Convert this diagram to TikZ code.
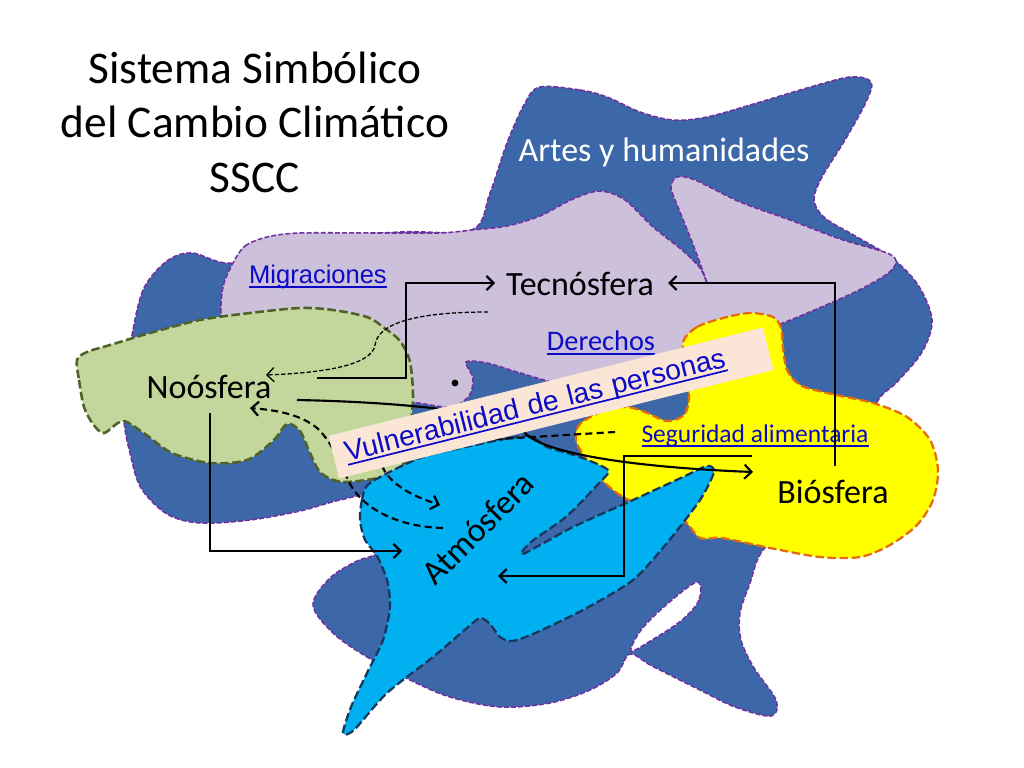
\documentclass[tikz,border=0pt]{standalone}
\usepackage{fontspec}
\setmainfont{Carlito}
\newfontfamily\arialf{Liberation Sans}
\usetikzlibrary{arrows.meta}
\definecolor{bgblue}{RGB}{60,103,168}
\definecolor{purp}{RGB}{112,48,160}
\definecolor{lav}{RGB}{204,192,218}
\definecolor{grn}{RGB}{195,214,155}
\definecolor{olive}{RGB}{79,98,40}
\definecolor{cyanf}{RGB}{0,176,240}
\definecolor{navy}{RGB}{23,55,94}
\definecolor{yel}{RGB}{255,255,0}
\definecolor{orng}{RGB}{228,108,10}
\definecolor{peach}{RGB}{251,229,214}
\definecolor{linkblue}{RGB}{10,10,200}
\newcommand{\ulk}[1]{\leavevmode\setbox0=\hbox{#1}\rlap{\vrule height -1.9pt depth 3.1pt width \wd0}\box0}
\begin{document}
\begin{tikzpicture}[x=0.0248cm,y=-0.0248cm,
  purpborder/.style={draw=purp, line width=1.1pt, dash pattern=on 3.5pt off 1.5pt},
  greenborder/.style={draw=olive, line width=1.8pt, dash pattern=on 6pt off 2.5pt},
  navyborder/.style={draw=navy, line width=1.6pt, dash pattern=on 6pt off 2.5pt},
  orangeborder/.style={draw=orng, line width=1.6pt, dash pattern=on 6pt off 2.5pt},
  smoothc/.style={smooth cycle, tension=0.55},
  tip/.style={-{Straight Barb[length=5pt,width=10pt]}},
  conn/.style={line width=1.5pt, tip},
  thindash/.style={line width=0.9pt, dash pattern=on 3pt off 1.5pt, tip},
  thickdash/.style={line width=1.5pt, dash pattern=on 5pt off 3pt},
  sphere/.style={font=\fontsize{24}{28.8}\selectfont, inner sep=0pt},
  titlestyle/.style={font=\fontsize{32}{38.4}\selectfont, align=center, inner sep=0pt},
  linkC/.style={text=linkblue, inner sep=0pt},
]
\useasboundingbox (0,0) rectangle (1024,768);
\fill[white] (0,0) rectangle (1024,768);

% large dark blue shape (Artes y humanidades)
\path[fill=bgblue, purpborder] plot[smoothc] coordinates {
 (540,87) (580,90) (607,97) (640,112) (673,120) (707,117) (757,103) (807,88)
 (850,77) (871,82) (866,102) (845,140) (822,177) (814,200) (825,218) (857,237)
 (892,258) (918,285) (932,320) (922,352) (897,382) (877,402) (860,450) (800,520)
 (763,550) (750,583) (740,613) (741,640) (754,668) (776,700) (771,716) (735,707)
 (700,690) (652,666) (630,654) (617,673) (590,690) (550,703) (500,707) (450,697)
 (410,680) (367,657) (333,633) (313,605) (330,578) (357,561) (377,553) (400,525)
 (370,497) (340,500) (300,511) (250,520) (200,523) (167,514) (141,488) (130,453)
 (124,420) (126,380) (133,330) (144,288) (167,261) (192,253) (233,263) (300,240)
 (400,232) (472,230) (490,193) (507,143) (525,103)};
% white gap in the lower blue
\path[fill=white, purpborder] plot[smoothc] coordinates {
 (697,582) (699,600) (682,620) (652,640) (631,651) (641,630) (666,605)};

% lavender shape (Tecnosfera)
\path[fill=lav, purpborder] plot[smooth cycle, tension=0.5] coordinates {
 (233,263) (245,246) (267,237) (300,233) (380,233) (440,233) (472,230) (507,226)
 (540,216) (573,199) (600,191) (625,200) (653,227) (682,250) (700,268) (707,283)
 (694,247) (680,212) (671,188) (677,177) (695,180) (740,202) (790,220) (840,239)
 (887,253) (896,262) (887,274) (853,293) (783,323) (720,345) (650,365) (580,380)
 (557,383) (517,372) (487,363) (466,362) (473,378) (469,396) (450,407) (410,402)
 (360,400) (300,390) (240,360) (222,320) (223,287)};

% green shape (Noosfera)
\path[fill=grn, greenborder] plot[smooth cycle, tension=0.5] coordinates {
 (77,360) (79,380) (84,407) (93,424) (104,433) (123,421) (145,434) (172,453)
 (210,463) (247,460) (273,441) (287,424) (300,431) (310,453) (321,473) (343,482)
 (383,477) (401,469) (408,440) (413,400) (410,362) (400,341) (383,327) (367,317)
 (333,310) (300,308) (250,313) (200,320) (150,333) (110,345) (87,352)};

% yellow shape (Biosfera)
\path[fill=yel, orangeborder] plot[smooth cycle, tension=0.5] coordinates {
 (683,342) (697,327) (723,318) (750,313) (773,317) (781,328) (783,348) (787,370)
 (800,385) (827,393) (873,403) (907,417) (930,440) (938,470) (933,500) (917,525)
 (890,545) (860,557) (820,557) (770,548) (722,538) (700,538) (683,520) (650,510)
 (620,495) (600,478) (585,458) (576,440) (580,424) (605,410) (627,407) (645,412)
 (667,421) (684,415) (689,398) (686,370)};

% cyan shape (Atmosfera)
\path[fill=cyanf, navyborder] plot[smooth cycle, tension=0.45] coordinates {
 (370,483) (362,500) (360,520) (365,540) (377,556) (387,580) (390,607) (383,640)
 (367,673) (351,707) (343,733) (354,730) (387,693) (433,657) (467,628) (480,618)
 (490,624) (500,637) (512,641) (533,634) (583,610) (633,580) (667,543) (700,500)
 (714,472) (707,466) (683,477) (633,500) (573,527) (523,554) (531,542) (567,516)
 (600,482) (608,470) (580,457) (547,447) (527,436) (470,446) (420,458)};

% text nodes
\node[titlestyle] (title) at (255,122) {Sistema Simbólico\\del Cambio Climático\\SSCC};
\node[sphere, text=white] (artes) at (664,152) {Artes y humanidades};
\node[sphere] (tecno) at (580,284) {Tecnósfera};
\node[sphere] (noos) at (209,387) {Noósfera};
\node[sphere] (bios) at (833,492) {Biósfera};
\node[sphere, rotate=45] (atmos) at (478,528) {Atmósfera};
\node[linkC, font=\arialf\fontsize{18}{21.6}\selectfont] (migr) at (318,277) {\ulk{Migraciones}};
\node[linkC, font=\fontsize{20}{24}\selectfont] (derechos) at (601,343) {\ulk{Derechos}};
\node[linkC, font=\fontsize{18}{21.6}\selectfont] (segur) at (755,436) {\ulk{Seguridad alimentaria}};
\node[circle, fill=black, inner sep=0pt, minimum size=0.17cm] (dot) at (455,383) {};

% connector points
\coordinate (n2t-s) at (317,378);
\coordinate (n2t-e) at (495,283);
\coordinate (t2n-s) at (488,312);
\coordinate (t2n-e) at (266,375);
\coordinate (b2t-s) at (835,466);
\coordinate (b2t-e) at (668,283);
\coordinate (n2a-s) at (210,413);
\coordinate (n2a-e) at (402,551);
\coordinate (b2a-s) at (752,456);
\coordinate (b2a-e) at (498,576);
\coordinate (n2b-s) at (297,400);
\coordinate (n2b-e) at (753,472);
\coordinate (a2n-s) at (443,528);
\coordinate (a2n-e) at (250,408);
\coordinate (s2a-s) at (615,432);
\coordinate (s2a-e) at (440,505);

% connectors
\draw[conn] (n2t-s) -- (406,378) -- (406,283) -- (n2t-e);
\draw[thindash] (t2n-s) .. controls (420,312) and (378,322) .. (375,345)
  .. controls (372,366) and (320,373) .. (t2n-e);
\draw[conn] (b2t-s) |- (b2t-e);
\draw[conn] (n2a-s) |- (n2a-e);
\draw[conn] (b2a-s) -- (624,456) -- (624,576) -- (b2a-e);
\draw[conn] (n2b-s) .. controls (400,402) and (505,412) .. (524,432)
  .. controls (545,456) and (650,468) .. (n2b-e);
\draw[thickdash, tip] (a2n-s) .. controls (400,527) and (362,510) .. (348,480)
  .. controls (338,458) and (330,440) .. (317,428)
  .. controls (300,414) and (275,410) .. (a2n-e);
\draw[thickdash, tip] (s2a-s) -- (500,439) .. controls (430,446) and (380,452) .. (383,468)
  .. controls (392,486) and (415,497) .. (s2a-e);

% vulnerability box on top
\node[fill=peach, rotate=14, text width=10.5cm, align=left, inner xsep=0.3cm,
  minimum height=1.09cm, text=linkblue, font=\arialf\fontsize{20}{24}\selectfont]
  (vuln) at (551,403) {\ulk{Vulnerabilidad de las personas}};
\end{tikzpicture}
\end{document}
